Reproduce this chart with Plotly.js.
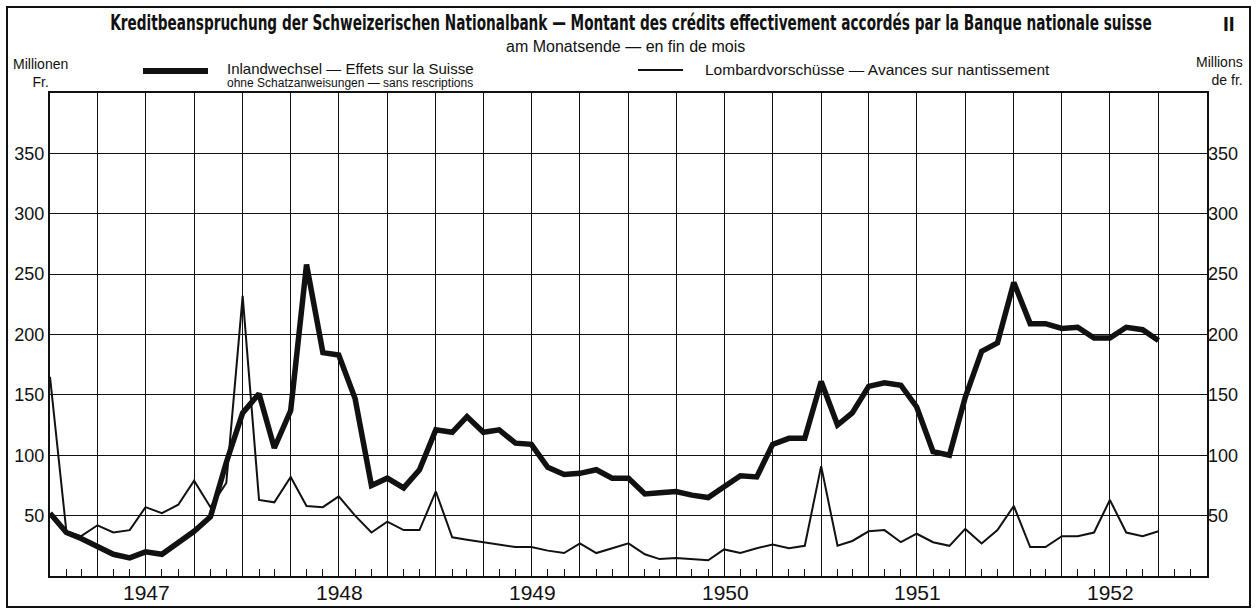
<!DOCTYPE html>
<html>
<head>
<meta charset="utf-8">
<script src="https://cdn.plot.ly/plotly-3.0.1.min.js"></script>
<style>
  html, body { margin: 0; padding: 0; background: #fff; }
  #chart { width: 1258px; height: 610px; }
</style>
</head>
<body>
<div id="chart"></div>
<script>
// Month-end dates (Dec 1946 – Sep 1952)
const dates = [
  '1946-12-31',
  '1947-01-31','1947-02-28','1947-03-31','1947-04-30','1947-05-31','1947-06-30',
  '1947-07-31','1947-08-31','1947-09-30','1947-10-31','1947-11-30','1947-12-31',
  '1948-01-31','1948-02-29','1948-03-31','1948-04-30','1948-05-31','1948-06-30',
  '1948-07-31','1948-08-31','1948-09-30','1948-10-31','1948-11-30','1948-12-31',
  '1949-01-31','1949-02-28','1949-03-31','1949-04-30','1949-05-31','1949-06-30',
  '1949-07-31','1949-08-31','1949-09-30','1949-10-31','1949-11-30','1949-12-31',
  '1950-01-31','1950-02-28','1950-03-31','1950-04-30','1950-05-31','1950-06-30',
  '1950-07-31','1950-08-31','1950-09-30','1950-10-31','1950-11-30','1950-12-31',
  '1951-01-31','1951-02-28','1951-03-31','1951-04-30','1951-05-31','1951-06-30',
  '1951-07-31','1951-08-31','1951-09-30','1951-10-31','1951-11-30','1951-12-31',
  '1952-01-31','1952-02-29','1952-03-31','1952-04-30','1952-05-31','1952-06-30',
  '1952-07-31','1952-08-31','1952-09-30'
];

// Inlandwechsel — Effets sur la Suisse (Mio. Fr.)
const inlandwechsel = [
  52,
  36, 31, 25, 18, 15, 20, 18, 28, 37, 49, 94, 135,
  151, 106, 137, 258, 185, 183, 147, 75, 81, 73, 88, 121,
  119, 132, 119, 121, 110, 109, 90, 84, 85, 88, 81, 81,
  68, 69, 70, 67, 65, 74, 83, 82, 109, 114, 114, 161,
  125, 135, 157, 160, 158, 140, 103, 100, 148, 186, 193, 243,
  209, 209, 205, 206, 197, 197, 206, 204, 195
];

// Lombardvorschüsse — Avances sur nantissement (Mio. Fr.)
const lombard = [
  165,
  37, 33, 42, 36, 38, 57, 52, 59, 79, 57, 77, 232,
  63, 61, 82, 58, 57, 66, 50, 36, 45, 38, 38, 70,
  32, 30, 28, 26, 24, 24, 21, 19, 27, 19, 23, 27,
  18, 14, 15, 14, 13, 22, 19, 23, 26, 23, 25, 91,
  25, 29, 37, 38, 28, 35, 28, 25, 39, 27, 38, 58,
  24, 24, 33, 33, 36, 63, 36, 33, 37
];

const years = ['1947', '1948', '1949', '1950', '1951', '1952'];
const yearCenters = ['1947-07-02', '1948-07-02', '1949-07-02', '1950-07-02', '1951-07-02', '1952-07-02'];
const yTicks = [50, 100, 150, 200, 250, 300, 350];

// layout helpers (pixel -> paper), plot area l=50, r=1207, t=93, b=576
const L = 50, R = 1207, T = 93, B = 576;
const X = px => (px - L) / (R - L);
const Y = py => (B - py) / (B - T);

const FONT = 'Liberation Sans, Arial, sans-serif';
const ink = '#111';

const traces = [
  {
    x: dates, y: lombard, type: 'scatter', mode: 'lines',
    line: { color: ink, width: 2 }, name: 'Lombardvorschüsse', hoverinfo: 'skip'
  },
  {
    x: dates, y: inlandwechsel, type: 'scatter', mode: 'lines',
    line: { color: ink, width: 5.5 }, name: 'Inlandwechsel', hoverinfo: 'skip'
  },
  {
    x: dates, y: lombard, type: 'scatter', mode: 'lines', yaxis: 'y2',
    line: { color: 'rgba(0,0,0,0)', width: 0 }, showlegend: false, hoverinfo: 'skip'
  }
];

const annotations = [
  { text: 'am Monatsende — en fin de mois', x: X(625), y: Y(46), xref: 'paper', yref: 'paper',
    xanchor: 'center', yanchor: 'middle', showarrow: false, font: { family: FONT, size: 16, color: ink } },
  { text: 'Inlandwechsel — Effets sur la Suisse', x: X(225), y: Y(69), xref: 'paper', yref: 'paper',
    xanchor: 'left', yanchor: 'middle', showarrow: false, font: { family: FONT, size: 15, color: ink } },
  { text: 'ohne Schatzanweisungen — sans rescriptions', x: X(225), y: Y(83), xref: 'paper', yref: 'paper',
    xanchor: 'left', yanchor: 'middle', showarrow: false, font: { family: FONT, size: 12, color: ink } },
  { text: 'Lombardvorschüsse — Avances sur nantissement', x: X(703), y: Y(70), xref: 'paper', yref: 'paper',
    xanchor: 'left', yanchor: 'middle', showarrow: false, font: { family: FONT, size: 15.5, color: ink } },
  { text: 'Millionen<br>Fr.', x: X(40), y: Y(73), xref: 'paper', yref: 'paper', align: 'center',
    xanchor: 'center', yanchor: 'middle', showarrow: false, font: { family: FONT, size: 14, color: ink } },
  { text: 'Millions<br>de fr.', x: X(1245), y: Y(71), xref: 'paper', yref: 'paper', align: 'right',
    xanchor: 'right', yanchor: 'middle', showarrow: false, font: { family: FONT, size: 14, color: ink } },
  { text: 'II', x: X(1229), y: Y(23), xref: 'paper', yref: 'paper',
    xanchor: 'center', yanchor: 'middle', showarrow: false, font: { family: FONT, size: 21, color: ink, weight: 700 } }
];
years.forEach((yr, i) => {
  annotations.push({
    text: yr, x: yearCenters[i], y: 0, xref: 'x', yref: 'y', xanchor: 'center', yanchor: 'top',
    yshift: -3, showarrow: false, font: { family: FONT, size: 21, color: ink }
  });
});

const shapes = [
  { type: 'rect', xref: 'paper', yref: 'paper', x0: X(7), x1: X(1250), y0: Y(607), y1: Y(7),
    line: { color: ink, width: 2 }, fillcolor: 'rgba(0,0,0,0)', layer: 'below' },
  { type: 'line', xref: 'paper', yref: 'paper', x0: X(143), x1: X(208), y0: Y(71), y1: Y(71),
    line: { color: ink, width: 6 } },
  { type: 'line', xref: 'paper', yref: 'paper', x0: X(638), x1: X(683), y0: Y(70), y1: Y(70),
    line: { color: ink, width: 2 } }
];

const TITLE_CX = 631, TITLE_W = 1042;

const layout = {
  width: 1258, height: 610,
  margin: { l: L, r: 1258 - R, t: T, b: 610 - B, pad: 0 },
  paper_bgcolor: '#fff', plot_bgcolor: '#fff',
  showlegend: false, hovermode: false,
  title: {
    text: 'Kreditbeanspruchung der Schweizerischen Nationalbank — Montant des crédits effectivement accordés par la Banque nationale suisse',
    x: TITLE_CX / 1258, xref: 'container', xanchor: 'center',
    y: 1 - 23 / 610, yref: 'container', yanchor: 'middle',
    font: { family: 'Liberation Sans Narrow, DejaVu Sans Condensed, Liberation Sans, sans-serif', size: 21, color: ink, weight: 700 }
  },
  xaxis: {
    type: 'date', range: ['1946-12-31', '1952-12-31'],
    tick0: '1946-12-31', dtick: 'M3',
    showgrid: true, gridcolor: ink, gridwidth: 1,
    ticks: 'inside', ticklen: 7, tickcolor: ink, tickwidth: 1,
    minor: { dtick: 'M1', tick0: '1946-12-31', ticks: 'inside', ticklen: 7, tickcolor: ink, tickwidth: 1, showgrid: false },
    showticklabels: false,
    showline: true, linecolor: ink, linewidth: 2, mirror: true,
    zeroline: false, fixedrange: true
  },
  yaxis: {
    range: [0, 400], tickvals: yTicks, ticktext: yTicks.map(String),
    showgrid: true, gridcolor: ink, gridwidth: 1,
    ticks: '', showline: true, linecolor: ink, linewidth: 2, mirror: true,
    zeroline: false, tickfont: { family: FONT, size: 18, color: ink }, fixedrange: true
  },
  yaxis2: {
    range: [0, 400], tickvals: yTicks, ticktext: yTicks.map(String),
    overlaying: 'y', side: 'right', showgrid: false, ticks: '', showline: false,
    zeroline: false, tickfont: { family: FONT, size: 18, color: ink }, fixedrange: true
  },
  annotations: annotations,
  shapes: shapes
};

Plotly.newPlot('chart', traces, layout, { staticPlot: true, displayModeBar: false }).then(gd => {
  // condense the bold title horizontally to the printed (condensed) width
  const t = gd.querySelector('.gtitle');
  if (t) {
    const w = t.getComputedTextLength();
    if (w > TITLE_W) {
      const sx = TITLE_W / w;
      const prev = t.getAttribute('transform') || '';
      t.setAttribute('transform', `translate(${TITLE_CX * (1 - sx)},0) scale(${sx},1) ${prev}`);
    }
  }
});
</script>
</body>
</html>
